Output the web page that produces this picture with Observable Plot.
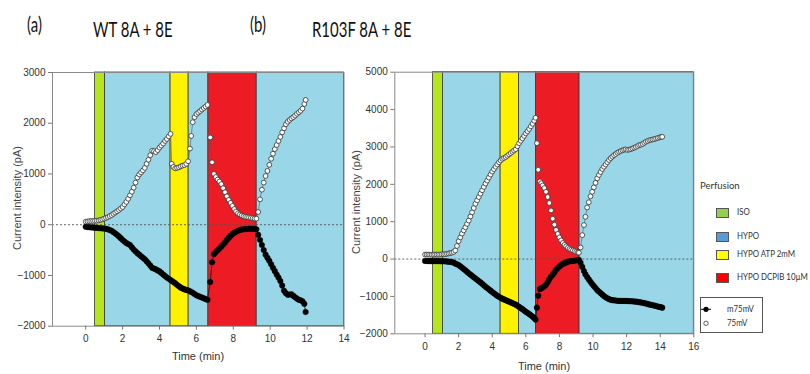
<!DOCTYPE html>
<html><head><meta charset="utf-8">
<script src="https://cdn.jsdelivr.net/npm/d3@7"></script>
<script src="https://cdn.jsdelivr.net/npm/@observablehq/plot@0.6"></script>
<style>
body{margin:0;background:#fff;}
#root{position:relative;width:810px;height:374px;overflow:hidden;font-family:"Liberation Sans",Arial,sans-serif;}
.abs{position:absolute;white-space:nowrap;line-height:1;}
.title{font-family:Lato,"Open Sans",sans-serif;font-size:22px;color:#111;transform-origin:left top;transform:scaleX(0.68);}
.ylab{font-size:11px;color:#444;transform:translate(-50%,-50%) rotate(-90deg);}
.xlab{font-size:11px;color:#333;transform:translate(-50%,-50%);}
.leg{font-family:Lato,"Open Sans",sans-serif;font-size:9.5px;color:#333;transform-origin:left top;}
.legn{transform:scaleX(0.83);}
</style></head><body><div id="root"></div>
<script>
// ---------- data ----------
const bandNames = ["ISO", "HYPO", "HYPO ATP 2mM", "HYPO DCPIB 10\u00b5M"];
const bandFill = ["#b5e61d", "#99d7e8", "#fff200", "#ed1c24"];
const legendFill = ["#92d050", "#5b9bd5", "#ffff00", "#ff0000"];
const seriesNames = ["m75mV", "75mV"];

// WT 8A + 8E : perfusion bands (kind index into bandNames), start/end in min
const wtBandKind = [0, 1, 2, 1, 3, 1];
const wtBandStart = [0.5, 1.05, 4.6, 5.58, 6.65, 9.27];
const wtBandEnd   = [1.05, 4.6, 5.58, 6.65, 9.27, 14];
// [time (min), current (pA)]
const wt75 = [[0,60],[0.1,65],[0.2,70],[0.3,72],[0.4,75],[0.5,78],[0.6,80],[0.7,85],[0.8,95],[0.9,105],[1,120],[1.1,135],[1.2,150],[1.3,170],[1.4,190],[1.5,215],[1.6,240],[1.7,265],[1.8,290],[1.9,320],[2,350],[2.1,400],[2.2,450],[2.3,510],[2.4,580],[2.5,650],[2.6,730],[2.7,830],[2.8,930],[2.9,990],[3,1030],[3.1,1070],[3.2,1120],[3.3,1200],[3.4,1280],[3.5,1370],[3.6,1460],[3.7,1450],[3.8,1430],[3.9,1470],[4,1520],[4.1,1560],[4.2,1600],[4.3,1650],[4.4,1690],[4.5,1740],[4.6,1790],[4.66,1200],[4.75,1140],[4.85,1110],[4.95,1120],[5.05,1130],[5.15,1150],[5.25,1165],[5.35,1175],[5.45,1200],[5.55,1250],[5.65,1500],[5.72,1750],[5.8,2020],[5.9,2120],[6,2180],[6.1,2210],[6.2,2240],[6.3,2270],[6.4,2300],[6.5,2330],[6.6,2360],[6.75,1720],[6.85,1230],[6.95,1000],[7.05,940],[7.15,890],[7.25,850],[7.35,800],[7.45,720],[7.55,640],[7.65,560],[7.75,490],[7.85,430],[7.95,370],[8.05,310],[8.15,260],[8.25,225],[8.35,200],[8.45,180],[8.55,165],[8.65,155],[8.75,148],[8.85,142],[8.95,135],[9.05,128],[9.15,122],[9.25,120],[9.35,250],[9.45,500],[9.55,690],[9.65,830],[9.75,960],[9.85,1060],[9.95,1180],[10.05,1300],[10.15,1400],[10.25,1490],[10.35,1570],[10.45,1650],[10.55,1730],[10.65,1820],[10.75,1900],[10.85,1980],[10.95,2030],[11.05,2065],[11.15,2095],[11.25,2120],[11.35,2150],[11.45,2185],[11.55,2215],[11.65,2245],[11.75,2290],[11.85,2380],[11.92,2460]];
const wtM75 = [[0,-40],[0.1,-45],[0.2,-50],[0.3,-52],[0.4,-55],[0.5,-58],[0.6,-60],[0.7,-65],[0.8,-70],[0.9,-72],[1,-75],[1.1,-80],[1.2,-90],[1.3,-105],[1.4,-120],[1.5,-145],[1.6,-170],[1.7,-200],[1.8,-230],[1.9,-265],[2,-300],[2.1,-330],[2.2,-360],[2.3,-380],[2.4,-400],[2.5,-445],[2.6,-490],[2.7,-525],[2.8,-560],[2.9,-590],[3,-620],[3.1,-650],[3.2,-680],[3.3,-720],[3.4,-760],[3.5,-805],[3.6,-850],[3.7,-865],[3.8,-880],[3.9,-900],[4,-920],[4.1,-950],[4.2,-980],[4.3,-1010],[4.4,-1040],[4.5,-1065],[4.6,-1090],[4.7,-1115],[4.8,-1140],[4.9,-1170],[5,-1200],[5.1,-1225],[5.2,-1250],[5.3,-1265],[5.4,-1280],[5.5,-1290],[5.6,-1300],[5.7,-1320],[5.8,-1340],[5.9,-1365],[6,-1390],[6.1,-1405],[6.2,-1420],[6.3,-1435],[6.4,-1450],[6.5,-1465],[6.6,-1480],[6.75,-1130],[6.85,-740],[6.95,-580],[7.05,-540],[7.15,-505],[7.25,-470],[7.35,-430],[7.45,-390],[7.55,-350],[7.65,-300],[7.75,-260],[7.85,-220],[7.95,-185],[8.05,-160],[8.15,-140],[8.25,-120],[8.35,-105],[8.45,-95],[8.55,-90],[8.65,-86],[8.75,-83],[8.85,-80],[8.95,-80],[9.05,-80],[9.15,-82],[9.25,-90],[9.35,-200],[9.45,-300],[9.55,-400],[9.65,-500],[9.75,-590],[9.85,-650],[9.95,-710],[10.05,-780],[10.15,-850],[10.25,-915],[10.35,-980],[10.45,-1040],[10.55,-1110],[10.65,-1200],[10.75,-1300],[10.85,-1350],[10.95,-1380],[11.05,-1375],[11.15,-1370],[11.25,-1400],[11.35,-1430],[11.45,-1455],[11.55,-1480],[11.65,-1490],[11.75,-1510],[11.85,-1560],[11.92,-1720]];

// R103F 8A + 8E
const rfBandKind = [0, 1, 2, 1, 3, 1];
const rfBandStart = [0.48, 1.07, 4.5, 5.6, 6.6, 9.2];
const rfBandEnd   = [1.07, 4.5, 5.6, 6.6, 9.2, 16];
const rf75 = [[0,120],[0.1,120],[0.2,120],[0.3,118],[0.4,115],[0.5,118],[0.6,120],[0.7,120],[0.8,120],[0.9,122],[1,125],[1.1,128],[1.2,130],[1.3,140],[1.4,150],[1.5,160],[1.6,170],[1.7,190],[1.8,230],[1.9,350],[2,480],[2.1,580],[2.2,680],[2.3,765],[2.4,850],[2.5,940],[2.6,1030],[2.7,1140],[2.8,1250],[2.9,1365],[3,1480],[3.1,1570],[3.2,1660],[3.3,1750],[3.4,1840],[3.5,1930],[3.6,2020],[3.7,2100],[3.8,2180],[3.9,2260],[4,2340],[4.1,2405],[4.2,2470],[4.3,2530],[4.4,2590],[4.5,2640],[4.6,2680],[4.7,2705],[4.8,2730],[4.9,2765],[5,2800],[5.1,2835],[5.2,2870],[5.3,2905],[5.4,2940],[5.5,3020],[5.6,3100],[5.7,3165],[5.8,3230],[5.9,3295],[6,3360],[6.1,3420],[6.2,3480],[6.3,3550],[6.4,3620],[6.5,3700],[6.58,3780],[6.66,3100],[6.74,2390],[6.84,2080],[6.92,2030],[7,1970],[7.1,1900],[7.2,1800],[7.3,1660],[7.4,1500],[7.5,1300],[7.6,1080],[7.7,920],[7.8,780],[7.9,670],[8,580],[8.1,500],[8.2,430],[8.3,380],[8.4,340],[8.5,300],[8.6,270],[8.7,250],[8.8,230],[8.9,210],[9,190],[9.1,178],[9.16,170],[9.26,310],[9.36,640],[9.46,910],[9.55,1130],[9.65,1380],[9.75,1520],[9.85,1680],[9.95,1800],[10.05,1920],[10.15,2040],[10.25,2160],[10.35,2250],[10.45,2330],[10.55,2410],[10.65,2470],[10.75,2530],[10.85,2590],[10.95,2650],[11.05,2700],[11.15,2740],[11.25,2780],[11.35,2810],[11.45,2845],[11.55,2870],[11.65,2890],[11.75,2910],[11.85,2925],[11.95,2935],[12.05,2920],[12.15,2930],[12.25,2940],[12.35,2960],[12.45,2980],[12.55,3000],[12.65,3025],[12.75,3050],[12.85,3060],[12.95,3080],[13.05,3110],[13.15,3140],[13.25,3160],[13.35,3180],[13.45,3190],[13.55,3200],[13.65,3210],[13.75,3225],[13.85,3240],[13.95,3255],[14.05,3265],[14.12,3270]];
const rfM75 = [[0,-50],[0.1,-50],[0.2,-55],[0.3,-55],[0.4,-55],[0.5,-55],[0.6,-55],[0.7,-55],[0.8,-55],[0.9,-58],[1,-60],[1.1,-60],[1.2,-60],[1.3,-65],[1.4,-70],[1.5,-75],[1.6,-80],[1.7,-95],[1.8,-120],[1.9,-140],[2,-160],[2.1,-195],[2.2,-230],[2.3,-265],[2.4,-300],[2.5,-340],[2.6,-380],[2.7,-415],[2.8,-450],[2.9,-485],[3,-520],[3.1,-555],[3.2,-590],[3.3,-625],[3.4,-660],[3.5,-700],[3.6,-740],[3.7,-775],[3.8,-810],[3.9,-845],[4,-880],[4.1,-915],[4.2,-950],[4.3,-980],[4.4,-1010],[4.5,-1035],[4.6,-1060],[4.7,-1080],[4.8,-1100],[4.9,-1120],[5,-1140],[5.1,-1160],[5.2,-1180],[5.3,-1200],[5.4,-1220],[5.5,-1250],[5.6,-1280],[5.7,-1310],[5.8,-1340],[5.9,-1375],[6,-1410],[6.1,-1440],[6.2,-1470],[6.3,-1505],[6.4,-1540],[6.5,-1580],[6.58,-1620],[6.66,-1300],[6.74,-980],[6.84,-800],[6.92,-780],[7,-760],[7.1,-730],[7.2,-690],[7.3,-620],[7.4,-540],[7.5,-470],[7.6,-420],[7.7,-360],[7.8,-290],[7.9,-240],[8,-200],[8.1,-160],[8.2,-130],[8.3,-110],[8.4,-90],[8.5,-75],[8.6,-60],[8.7,-55],[8.8,-50],[8.9,-45],[9,-35],[9.1,-25],[9.16,-20],[9.26,-100],[9.36,-210],[9.46,-320],[9.55,-410],[9.65,-480],[9.75,-545],[9.85,-610],[9.95,-670],[10.05,-720],[10.15,-775],[10.25,-830],[10.35,-870],[10.45,-910],[10.55,-950],[10.65,-990],[10.75,-1020],[10.85,-1050],[10.95,-1070],[11.05,-1090],[11.15,-1100],[11.25,-1105],[11.35,-1110],[11.45,-1115],[11.55,-1120],[11.65,-1120],[11.75,-1120],[11.85,-1120],[11.95,-1120],[12.05,-1125],[12.15,-1125],[12.25,-1130],[12.35,-1130],[12.45,-1135],[12.55,-1140],[12.65,-1145],[12.75,-1155],[12.85,-1160],[12.95,-1170],[13.05,-1180],[13.15,-1190],[13.25,-1200],[13.35,-1215],[13.45,-1225],[13.55,-1235],[13.65,-1245],[13.75,-1255],[13.85,-1270],[13.95,-1280],[14.05,-1290],[14.12,-1300]];

const wtXTicks = [0,2,4,6,8,10,12,14];
const rfXTicks = [0,2,4,6,8,10,12,14,16];
const wtYTicks = [-2000,-1000,0,1000,2000,3000];
const rfYTicks = [-2000,-1000,0,1000,2000,3000,4000,5000];

// ---------- drawing ----------
const root = document.getElementById("root");
function addText(cls, txt, x, y, extra) {
  const d = document.createElement("div");
  d.className = "abs " + cls;
  d.textContent = txt;
  d.style.left = x + "px"; d.style.top = y + "px";
  if (extra) Object.assign(d.style, extra);
  root.appendChild(d);
  return d;
}

function panel(o) {
  const bands = o.kind.map((k, i) => ({k, s: o.start[i], e: o.end[i]}));
  const neg = o.neg.map(([t, v]) => ({t, v}));
  const pos = o.pos.map(([t, v]) => ({t, v}));
  const svg = Plot.plot({
    width: o.width, height: o.height,
    marginLeft: o.ml, marginRight: o.mr, marginTop: o.mt, marginBottom: o.mb,
    x: {domain: [-1.8, o.xmax]},
    y: {domain: [o.ymin, o.ymax]},
    style: {background: "transparent", overflow: "visible", fontFamily: "'Liberation Sans', Arial, sans-serif", fontSize: "10px", color: "#333"},
    marks: [
      Plot.rect(bands, {x1: "s", x2: "e", y1: o.ymin, y2: o.ymax, fill: d => bandFill[d.k], stroke: "#3a3a3a", strokeWidth: 0.8}),
      Plot.ruleY([0], {stroke: "#555", strokeDasharray: "2,2", strokeWidth: 0.9}),
      Plot.frame({stroke: "#8a8a8a", strokeWidth: 1}),
      Plot.line(pos, {x: "t", y: "v", stroke: "#555", strokeWidth: 0.6}),
      Plot.line(neg, {x: "t", y: "v", stroke: "#111", strokeWidth: 0.8}),
      Plot.dot(neg, {x: "t", y: "v", r: 2.8, fill: "#000", stroke: "#000", strokeWidth: 0.4}),
      Plot.dot(pos, {x: "t", y: "v", r: 2.4, fill: "#fff", stroke: "#333", strokeWidth: 0.8}),
      Plot.axisX({ticks: o.xticks, tickSize: 4, tickPadding: 5, label: null, stroke: "#777"}),
      Plot.axisY({ticks: o.yticks, tickSize: 4, tickPadding: 3, label: null, stroke: "#777", tickFormat: d3.format("d")})
    ]
  });
  svg.style.position = "absolute";
  svg.style.top = "0px";
  svg.style.left = o.left + "px";
  root.appendChild(svg);
}

panel({pos: wt75, neg: wtM75, kind: wtBandKind, start: wtBandStart, end: wtBandEnd,
  xmax: 14, ymin: -2000, ymax: 3000, xticks: wtXTicks, yticks: wtYTicks,
  left: 0, width: 350, height: 374, ml: 52, mr: 6.5, mt: 72, mb: 48.3});
panel({pos: rf75, neg: rfM75, kind: rfBandKind, start: rfBandStart, end: rfBandEnd,
  xmax: 16, ymin: -2000, ymax: 5000, xticks: rfXTicks, yticks: rfYTicks,
  left: 340, width: 370, height: 374, ml: 54.3, mr: 16.7, mt: 71.7, mb: 40.7});

// titles & axis labels
addText("title", "(a)", 27, 13);
addText("title", "WT 8A + 8E", 93, 18);
addText("title", "(b)", 250, 13);
addText("title", "R103F 8A + 8E", 312, 18);
addText("ylab", "Current intensity (pA)", 17, 198);
addText("ylab", "Current intensity (pA)", 356, 202);
addText("xlab", "Time (min)", 198, 356);
addText("xlab", "Time (min)", 544, 366);

// legend
addText("leg", "Perfusion", 700, 181);
const legY = [212, 236, 254, 277];
bandNames.forEach((n, i) => {
  const sw = document.createElement("div");
  sw.className = "abs";
  Object.assign(sw.style, {left: "716px", top: (legY[i] - 4.5) + "px", width: "11px", height: "8px", background: legendFill[i], border: "1px solid #555"});
  root.appendChild(sw);
  addText("leg legn", n, 737, legY[i] - 5);
});
const box = document.createElement("div");
box.className = "abs";
Object.assign(box.style, {left: "700px", top: "297px", width: "63px", height: "36px", border: "1px solid #555", boxSizing: "border-box"});
root.appendChild(box);
const ns = "http://www.w3.org/2000/svg";
const ls = document.createElementNS(ns, "svg");
ls.setAttribute("width", 20); ls.setAttribute("height", 30);
Object.assign(ls.style, {position: "absolute", left: "698px", top: "302px"});
ls.innerHTML = `<line x1="3" x2="13" y1="7.3" y2="7.3" stroke="#000" stroke-width="1"/><circle cx="8" cy="7.3" r="2.6" fill="#000"/>` +
               `<circle cx="8" cy="21.3" r="2.2" fill="#fff" stroke="#333" stroke-width="0.8"/>`;
root.appendChild(ls);
addText("leg legn", seriesNames[0], 727, 304);
addText("leg legn", seriesNames[1], 727, 318);
</script></body></html>
